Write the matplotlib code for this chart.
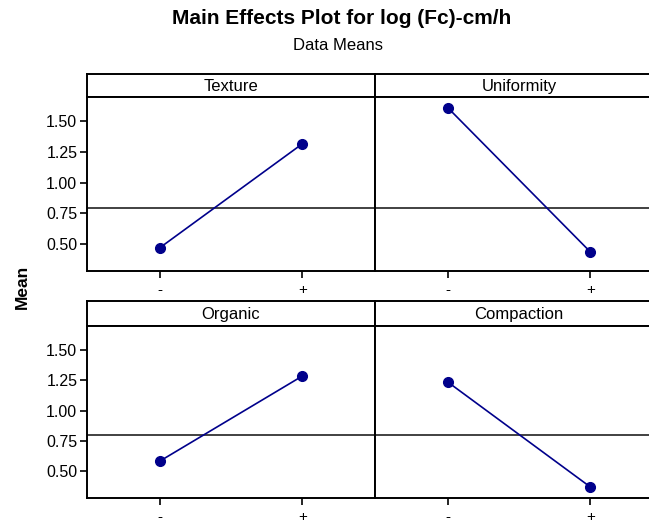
import matplotlib.pyplot as plt

plt.rcParams['font.family'] = ['Liberation Sans', 'DejaVu Sans']

factors = ["Texture", "Uniformity", "Organic", "Compaction"]
levels = ["-", "+"]
texture_means = [0.467, 1.317]
uniformity_means = [1.613, 0.434]
organic_means = [0.582, 1.286]
compaction_means = [1.237, 0.369]
grand_mean = 0.796
y_ticks = [0.50, 0.75, 1.00, 1.25, 1.50]

means = [texture_means, uniformity_means, organic_means, compaction_means]

W, H = 649, 525
fig = plt.figure(figsize=(W / 100, H / 100), dpi=100)


def px_axes(x0, y0, x1, y1):
    # pixel box (from top-left) -> figure axes
    return fig.add_axes([x0 / W, 1 - y1 / H, (x1 - x0) / W, (y1 - y0) / H])


cols = [(87, 375), (375, 663)]
rows = [(74, 97, 270.7), (301, 326, 497.7)]
frame_lw = 1.4

for i, name in enumerate(factors):
    r, c = divmod(i, 2)
    x0, x1 = cols[c]
    h0, h1, p1 = rows[r]

    # header strip
    hax = px_axes(x0, h0, x1, h1)
    hax.set_xticks([])
    hax.set_yticks([])
    for s in hax.spines.values():
        s.set_linewidth(frame_lw)
    hax.text(0.5, 0.45, name, ha='center', va='center', fontsize=12,
             transform=hax.transAxes)

    ax = px_axes(x0, h1, x1, p1)
    for s in ax.spines.values():
        s.set_linewidth(frame_lw)
    ax.axhline(grand_mean, color='#333333', lw=1.3, zorder=1)
    ax.plot([0, 1], means[i], color='#00008b', lw=1.2, marker='o',
            markersize=7, zorder=3)
    ax.set_xlim(-0.51, 1.51)
    ax.set_ylim(0.28, 1.70)
    ax.set_xticks([0, 1])
    ax.set_xticklabels(levels, fontsize=11)
    ax.tick_params(axis='x', direction='out', length=5, width=1.2, pad=4)
    if c == 0:
        ax.set_yticks(y_ticks)
        ax.set_yticklabels(['%.2f' % v for v in y_ticks], fontsize=11.5)
        ax.tick_params(axis='y', direction='out', length=5, width=1.2, pad=2)
    else:
        ax.set_yticks([])

fig.text(342 / W, 1 - 19 / H, "Main Effects Plot for log (Fc)-cm/h",
         ha='center', va='center', fontsize=15, fontweight='bold')
fig.text(338 / W, 1 - 46 / H, "Data Means", ha='center', va='center',
         fontsize=12)
fig.text(22 / W, 1 - 287 / H, "Mean", ha='center', va='center', rotation=90,
         fontsize=12.5, fontweight='bold')

fig.savefig('out.png', dpi=100)
